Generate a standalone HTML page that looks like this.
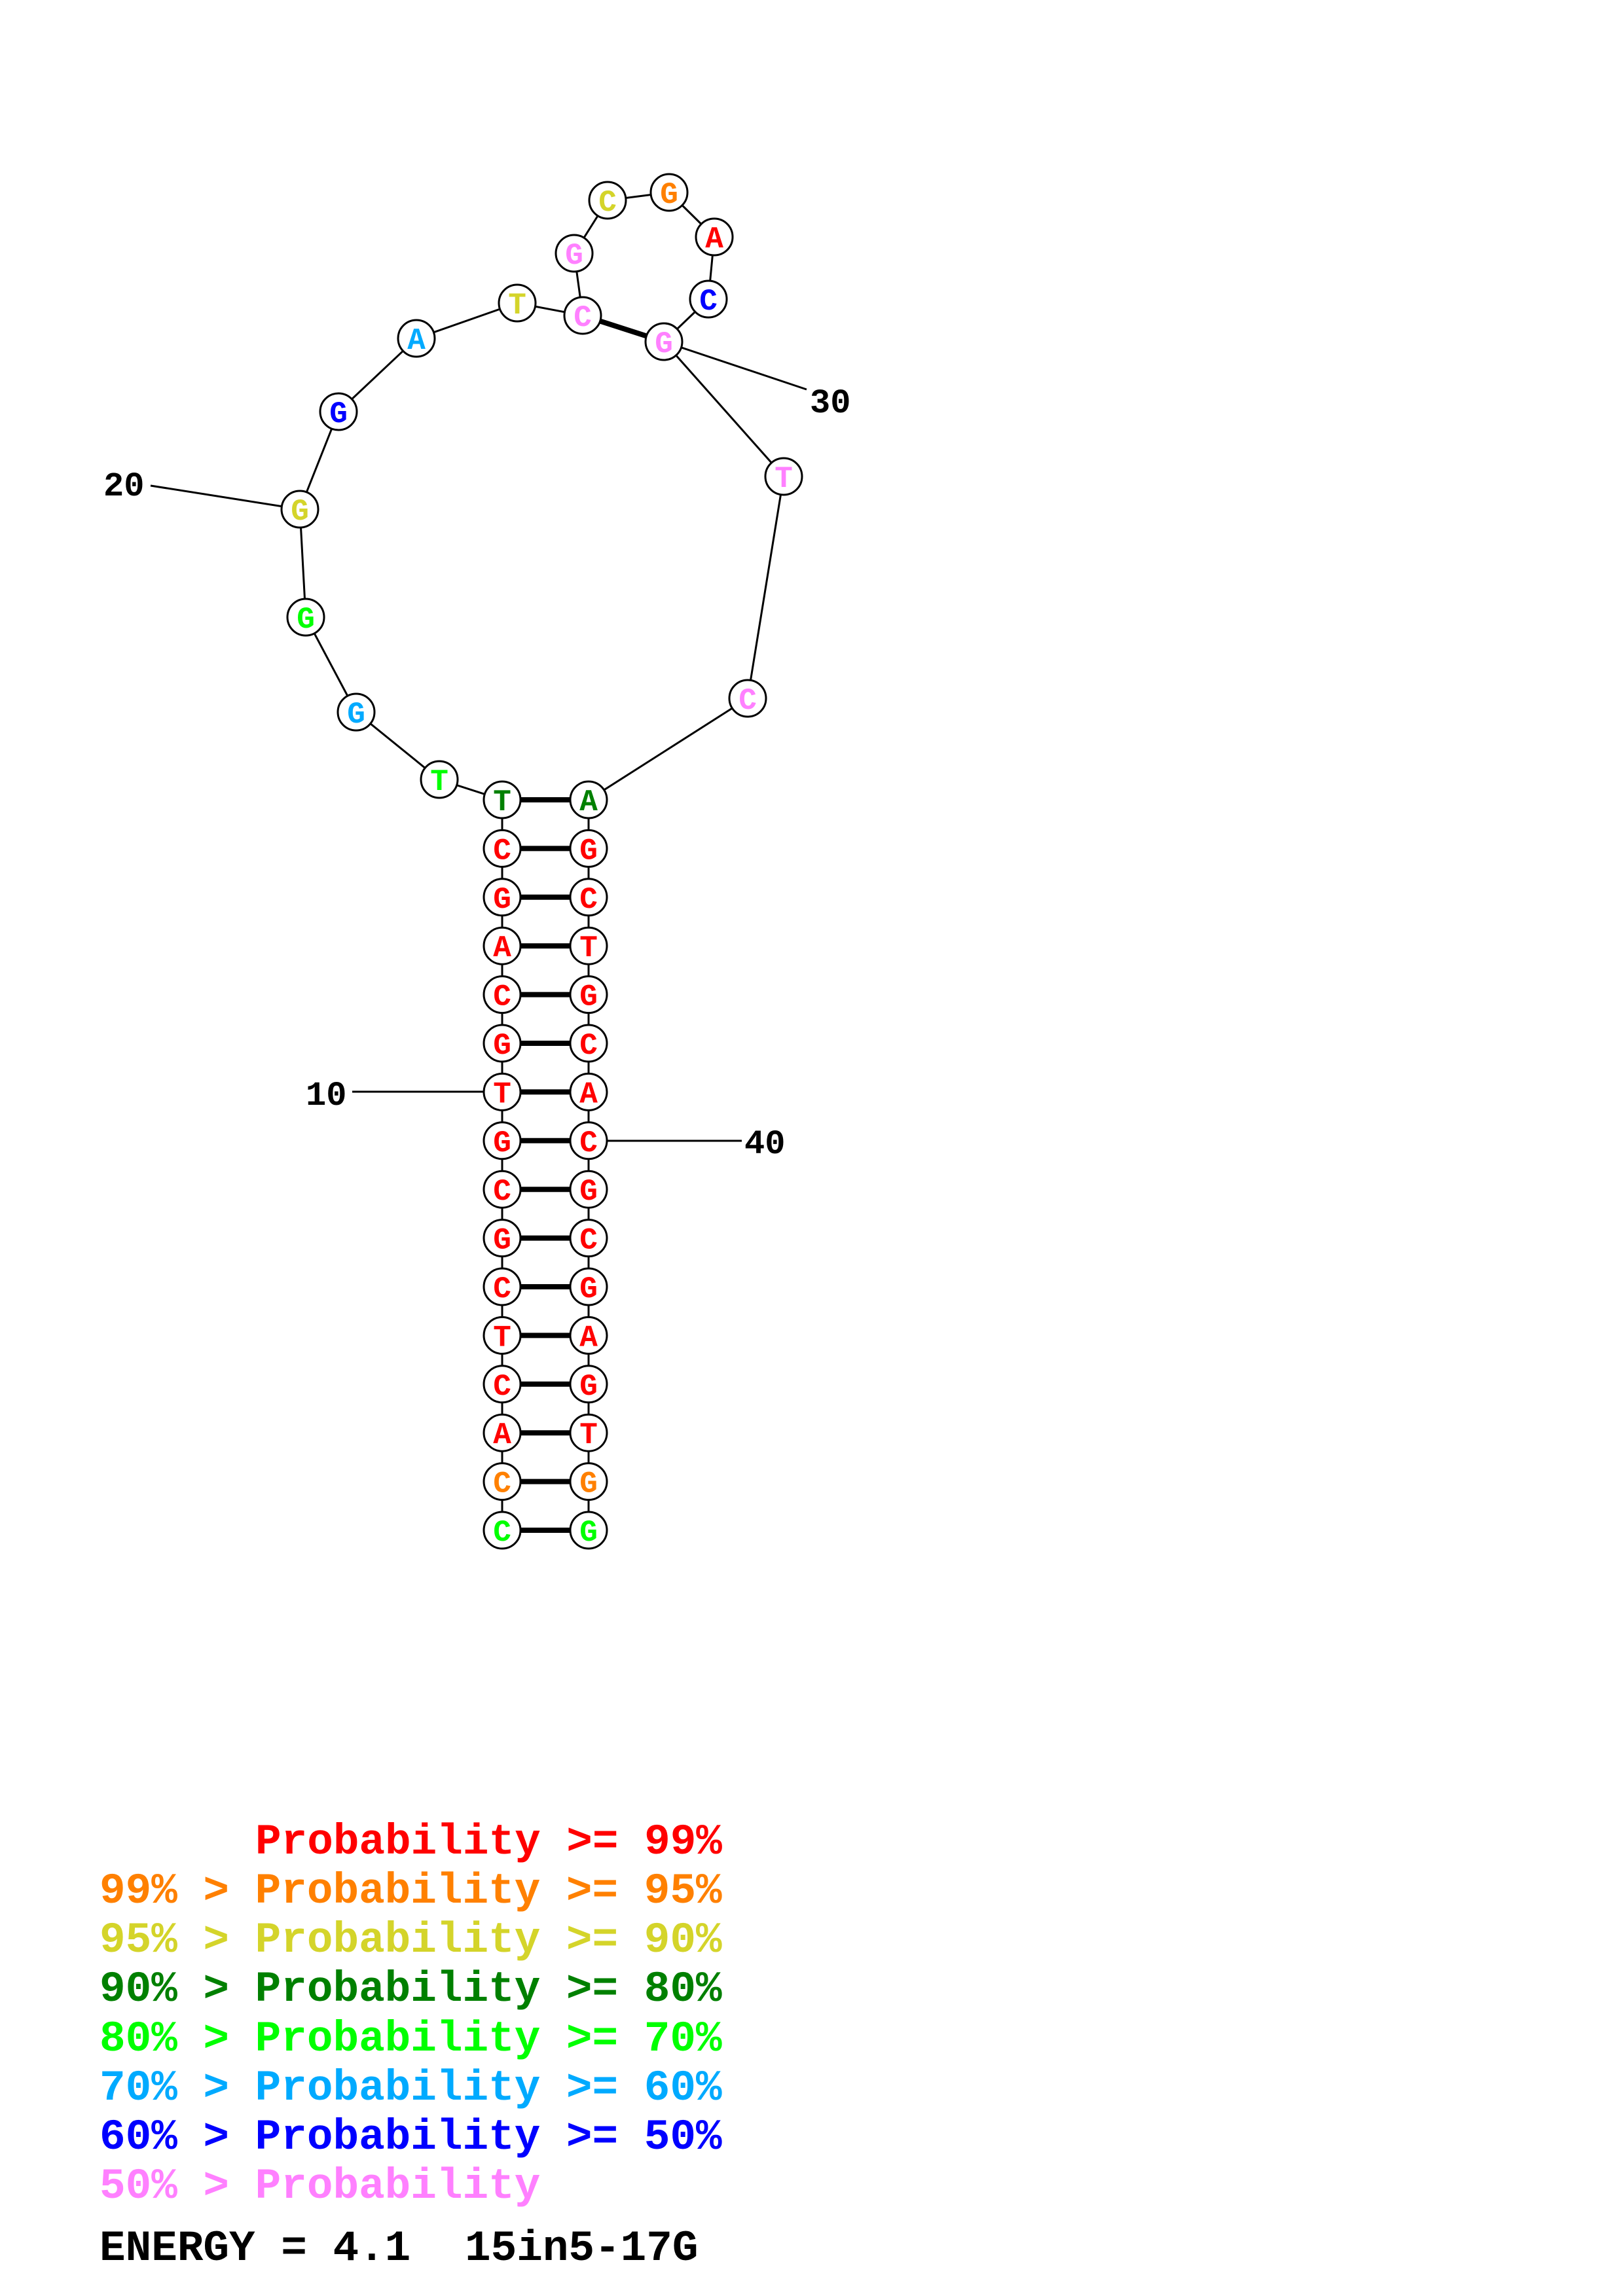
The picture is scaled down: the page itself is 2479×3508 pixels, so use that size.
<!DOCTYPE html>
<html><head><meta charset="utf-8"><style>
html,body{margin:0;padding:0;background:#fff;}
svg{display:block;}
.n{fill:#fff;stroke:#000;stroke-width:3;}
.l{font-family:"Liberation Mono",monospace;font-weight:bold;font-size:46px;text-anchor:middle;}
.num{font-family:"Liberation Mono",monospace;font-weight:bold;font-size:52px;}
.lg{font-family:"Liberation Mono",monospace;font-weight:bold;font-size:66px;}
</style></head><body>
<svg width="2479" height="3508" viewBox="0 0 2479 3508" xmlns="http://www.w3.org/2000/svg">
<g stroke="#000" stroke-width="3" fill="none">
<polyline points="767,2338 767,1222 671,1191 544,1088 467,943 458,778 517,629 636,517 790,463 890,482 877,387 928,306 1022,294 1091,362 1082,457 1014,522 1197,728 1142,1067 899,1222 899,2338"/>
<line x1="230" y1="742" x2="458" y2="778"/>
<line x1="538" y1="1668" x2="767" y2="1668"/>
<line x1="1014" y1="522" x2="1232" y2="595"/>
<line x1="899" y1="1743" x2="1133" y2="1743"/>
</g>
<g stroke="#000" stroke-width="8">
<line x1="890" y1="482" x2="1014" y2="522"/>
<line x1="767" y1="1222" x2="899" y2="1222"/>
<line x1="767" y1="1296.4" x2="899" y2="1296.4"/>
<line x1="767" y1="1370.8" x2="899" y2="1370.8"/>
<line x1="767" y1="1445.2" x2="899" y2="1445.2"/>
<line x1="767" y1="1519.6" x2="899" y2="1519.6"/>
<line x1="767" y1="1594" x2="899" y2="1594"/>
<line x1="767" y1="1668.4" x2="899" y2="1668.4"/>
<line x1="767" y1="1742.8" x2="899" y2="1742.8"/>
<line x1="767" y1="1817.2" x2="899" y2="1817.2"/>
<line x1="767" y1="1891.6" x2="899" y2="1891.6"/>
<line x1="767" y1="1966" x2="899" y2="1966"/>
<line x1="767" y1="2040.4" x2="899" y2="2040.4"/>
<line x1="767" y1="2114.8" x2="899" y2="2114.8"/>
<line x1="767" y1="2189.2" x2="899" y2="2189.2"/>
<line x1="767" y1="2263.6" x2="899" y2="2263.6"/>
<line x1="767" y1="2338" x2="899" y2="2338"/>
</g>
<g class="n">
<circle cx="671" cy="1191" r="28"/><circle cx="544" cy="1088" r="28"/><circle cx="467" cy="943" r="28"/><circle cx="458" cy="778" r="28"/><circle cx="517" cy="629" r="28"/><circle cx="636" cy="517" r="28"/><circle cx="790" cy="463" r="28"/><circle cx="890" cy="482" r="28"/><circle cx="877" cy="387" r="28"/><circle cx="928" cy="306" r="28"/><circle cx="1022" cy="294" r="28"/><circle cx="1091" cy="362" r="28"/><circle cx="1082" cy="457" r="28"/><circle cx="1014" cy="522" r="28"/><circle cx="1197" cy="728" r="28"/><circle cx="1142" cy="1067" r="28"/>
<circle cx="767" cy="1222" r="28"/><circle cx="767" cy="1296.4" r="28"/><circle cx="767" cy="1370.8" r="28"/><circle cx="767" cy="1445.2" r="28"/><circle cx="767" cy="1519.6" r="28"/><circle cx="767" cy="1594" r="28"/><circle cx="767" cy="1668.4" r="28"/><circle cx="767" cy="1742.8" r="28"/><circle cx="767" cy="1817.2" r="28"/><circle cx="767" cy="1891.6" r="28"/><circle cx="767" cy="1966" r="28"/><circle cx="767" cy="2040.4" r="28"/><circle cx="767" cy="2114.8" r="28"/><circle cx="767" cy="2189.2" r="28"/><circle cx="767" cy="2263.6" r="28"/><circle cx="767" cy="2338" r="28"/>
<circle cx="899" cy="1222" r="28"/><circle cx="899" cy="1296.4" r="28"/><circle cx="899" cy="1370.8" r="28"/><circle cx="899" cy="1445.2" r="28"/><circle cx="899" cy="1519.6" r="28"/><circle cx="899" cy="1594" r="28"/><circle cx="899" cy="1668.4" r="28"/><circle cx="899" cy="1742.8" r="28"/><circle cx="899" cy="1817.2" r="28"/><circle cx="899" cy="1891.6" r="28"/><circle cx="899" cy="1966" r="28"/><circle cx="899" cy="2040.4" r="28"/><circle cx="899" cy="2114.8" r="28"/><circle cx="899" cy="2189.2" r="28"/><circle cx="899" cy="2263.6" r="28"/><circle cx="899" cy="2338" r="28"/>
</g>
<g class="l">
<text x="671" y="1207" fill="#00ff00">T</text>
<text x="544" y="1104" fill="#00aaff">G</text>
<text x="467" y="959" fill="#00ff00">G</text>
<text x="458" y="794" fill="#d4d42a">G</text>
<text x="517" y="645" fill="#0000ff">G</text>
<text x="636" y="533" fill="#00aaff">A</text>
<text x="790" y="479" fill="#d4d42a">T</text>
<text x="890" y="498" fill="#ff80ff">C</text>
<text x="877" y="403" fill="#ff80ff">G</text>
<text x="928" y="322" fill="#d4d42a">C</text>
<text x="1022" y="310" fill="#ff8000">G</text>
<text x="1091" y="378" fill="#ff0000">A</text>
<text x="1082" y="473" fill="#0000ff">C</text>
<text x="1014" y="538" fill="#ff80ff">G</text>
<text x="1197" y="744" fill="#ff80ff">T</text>
<text x="1142" y="1083" fill="#ff80ff">C</text>
<text x="767" y="1238" fill="#008000">T</text>
<text x="767" y="1312.4" fill="#ff0000">C</text>
<text x="767" y="1386.8" fill="#ff0000">G</text>
<text x="767" y="1461.2" fill="#ff0000">A</text>
<text x="767" y="1535.6" fill="#ff0000">C</text>
<text x="767" y="1610" fill="#ff0000">G</text>
<text x="767" y="1684.4" fill="#ff0000">T</text>
<text x="767" y="1758.8" fill="#ff0000">G</text>
<text x="767" y="1833.2" fill="#ff0000">C</text>
<text x="767" y="1907.6" fill="#ff0000">G</text>
<text x="767" y="1982" fill="#ff0000">C</text>
<text x="767" y="2056.4" fill="#ff0000">T</text>
<text x="767" y="2130.8" fill="#ff0000">C</text>
<text x="767" y="2205.2" fill="#ff0000">A</text>
<text x="767" y="2279.6" fill="#ff8000">C</text>
<text x="767" y="2354" fill="#00ff00">C</text>
<text x="899" y="1238" fill="#008000">A</text>
<text x="899" y="1312.4" fill="#ff0000">G</text>
<text x="899" y="1386.8" fill="#ff0000">C</text>
<text x="899" y="1461.2" fill="#ff0000">T</text>
<text x="899" y="1535.6" fill="#ff0000">G</text>
<text x="899" y="1610" fill="#ff0000">C</text>
<text x="899" y="1684.4" fill="#ff0000">A</text>
<text x="899" y="1758.8" fill="#ff0000">C</text>
<text x="899" y="1833.2" fill="#ff0000">G</text>
<text x="899" y="1907.6" fill="#ff0000">C</text>
<text x="899" y="1982" fill="#ff0000">G</text>
<text x="899" y="2056.4" fill="#ff0000">A</text>
<text x="899" y="2130.8" fill="#ff0000">G</text>
<text x="899" y="2205.2" fill="#ff0000">T</text>
<text x="899" y="2279.6" fill="#ff8000">G</text>
<text x="899" y="2354" fill="#00ff00">G</text>
</g>
<g class="num" fill="#000">
<text x="158" y="757">20</text>
<text x="467" y="1688">10</text>
<text x="1237" y="630">30</text>
<text x="1137" y="1762">40</text>
</g>
<g class="lg">
<text x="390" y="2832" fill="#ff0000">Probability &gt;= 99%</text>
<text x="152" y="2907" fill="#ff8000">99% &gt; Probability &gt;= 95%</text>
<text x="152" y="2982" fill="#d4d42a">95% &gt; Probability &gt;= 90%</text>
<text x="152" y="3057" fill="#008000">90% &gt; Probability &gt;= 80%</text>
<text x="152" y="3133" fill="#00ff00">80% &gt; Probability &gt;= 70%</text>
<text x="152" y="3208" fill="#00aaff">70% &gt; Probability &gt;= 60%</text>
<text x="152" y="3283" fill="#0000ff">60% &gt; Probability &gt;= 50%</text>
<text x="152" y="3358" fill="#ff80ff">50% &gt; Probability</text>
<text x="152" y="3453" fill="#000">ENERGY = 4.1</text>
<text x="710" y="3453" fill="#000">15in5-17G</text>
</g>
</svg>
</body></html>
